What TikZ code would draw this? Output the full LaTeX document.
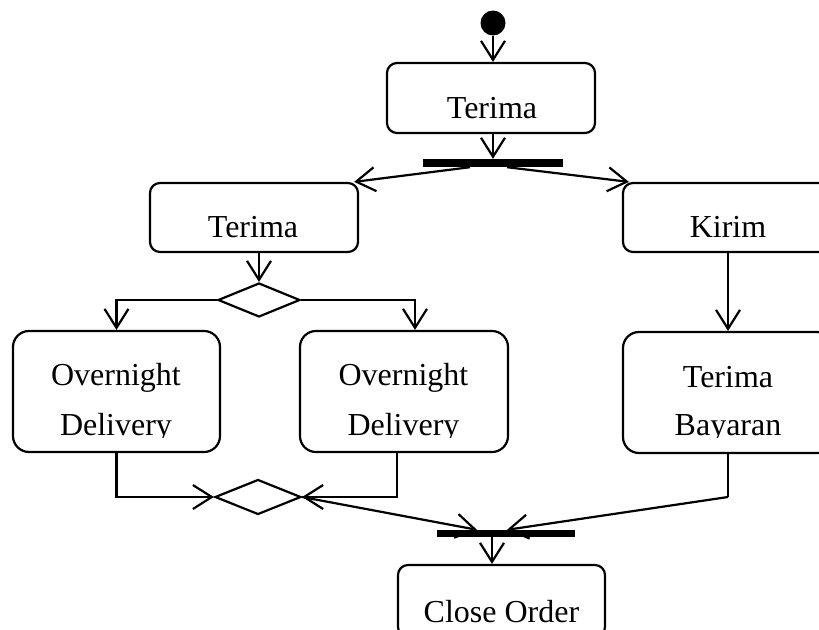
\documentclass[tikz,border=0pt]{standalone}
\usepackage{fontspec}
\setmainfont{Liberation Serif}
\usetikzlibrary{arrows.meta,shapes.geometric,calc}

\tikzset{
  act/.style={draw, line width=2.2pt, rounded corners=10pt, inner sep=0pt},
  tallact/.style={act, rounded corners=16pt},
  lbl/.style={anchor=base, inner sep=0pt, font=\fontsize{32}{38}\selectfont},
  barnode/.style={fill=black, draw=none, inner sep=0pt},
  decision/.style={draw, diamond, line width=2.2pt, inner sep=0pt},
  flow/.style={line width=2.2pt, -{Straight Barb[length=19pt,width=24pt,line width=2.2pt]}},
  plain/.style={line width=2.2pt}
}

\begin{document}
\begin{tikzpicture}[x=1pt, y=-1pt]
\useasboundingbox (0,0) rectangle (819,629);
\clip (0,0) rectangle (819,629);

% initial state
\node[circle, fill=black, inner sep=0pt, minimum size=25pt] (start) at (493,23) {};

% activities
\node[act, minimum width=208pt, minimum height=70pt] (b1) at (491,98) {};
\node[act, minimum width=208pt, minimum height=69pt] (b2) at (254,217.5) {};
\node[act, minimum width=210pt, minimum height=69pt] (b3) at (728,217.5) {};
\node[tallact, minimum width=207pt, minimum height=121pt] (b4) at (116.5,391.5) {};
\node[tallact, minimum width=208pt, minimum height=121pt] (b5) at (404,391.5) {};
\node[tallact, minimum width=210pt, minimum height=121pt] (b6) at (728,392.5) {};
\node[act, minimum width=207pt, minimum height=72pt] (b7) at (501.5,601) {};

% fork / join bars
\node[barnode, minimum width=140pt, minimum height=8pt] (bar1) at (493,163) {};
\node[barnode, minimum width=138pt, minimum height=7pt] (bar2) at (506,533.5) {};

% decision / merge
\node[decision, minimum width=82pt, minimum height=34pt] (d1) at (259,300) {};
\node[decision, minimum width=86pt, minimum height=35pt] (d2) at (258,497) {};

% labels
\node[lbl] (t1) at (492,118) {Terima};
\node[lbl] (t2) at (253,237) {Terima};
\node[lbl] (t3) at (728,237) {Kirim};
\node[lbl] (t4a) at (116,385) {Overnight};
\node[lbl] (t5a) at (403.5,385) {Overnight};
\node[lbl] (t6a) at (728,387) {Terima};
\begin{scope}
  \clip (0,400) rectangle (819,437);
  \node[lbl] (t4b) at (116,435) {Delivery};
  \node[lbl] (t5b) at (403.5,435) {Delivery};
  \node[lbl] (t6b) at (728,435) {Bayaran};
\end{scope}
\node[lbl] (t7) at (501.5,622) {Close Order};

% connector end points
\coordinate (f1) at ($(bar1.south)+(-23,0)$);
\coordinate (f2) at ($(bar1.south)+(14,0)$);
\coordinate (j1) at ($(bar2.north)+(-29,0)$);
\coordinate (j2) at ($(bar2.north)+(1,0)$);
\coordinate (j3) at ($(bar2.south)+(-14,0)$);
\coordinate (k) at (b6.south |- d2.east);

% flows
\draw[flow] (start.south) -- (start.south |- b1.north);
\draw[flow] (bar1.north |- b1.south) -- (bar1.north);
\draw[flow] (f1) -- ($(b2.north east)+(-5,0)$);
\draw[flow] (f2) -- ($(b3.north west)+(7,0)$);
\draw[flow] (d1.north |- b2.south) -- (d1.north);
\draw[flow] (d1.west) -| (b4.north);
\draw[flow] (d1.east) -| ($(b5.north)+(11,0)$);
\draw[flow] (b3.south) -- (b6.north);
\draw[flow] (b4.south) |- (d2.west);
\draw[flow] ($(b5.south)+(-7,0)$) |- (d2.east);
\draw[flow] (d2.east) -- (j1);
\draw[plain] (b6.south) -- (k);
\draw[flow] (k) -- (j2);
\draw[flow] (j3) -- (j3 |- b7.north);
\end{tikzpicture}
\end{document}
